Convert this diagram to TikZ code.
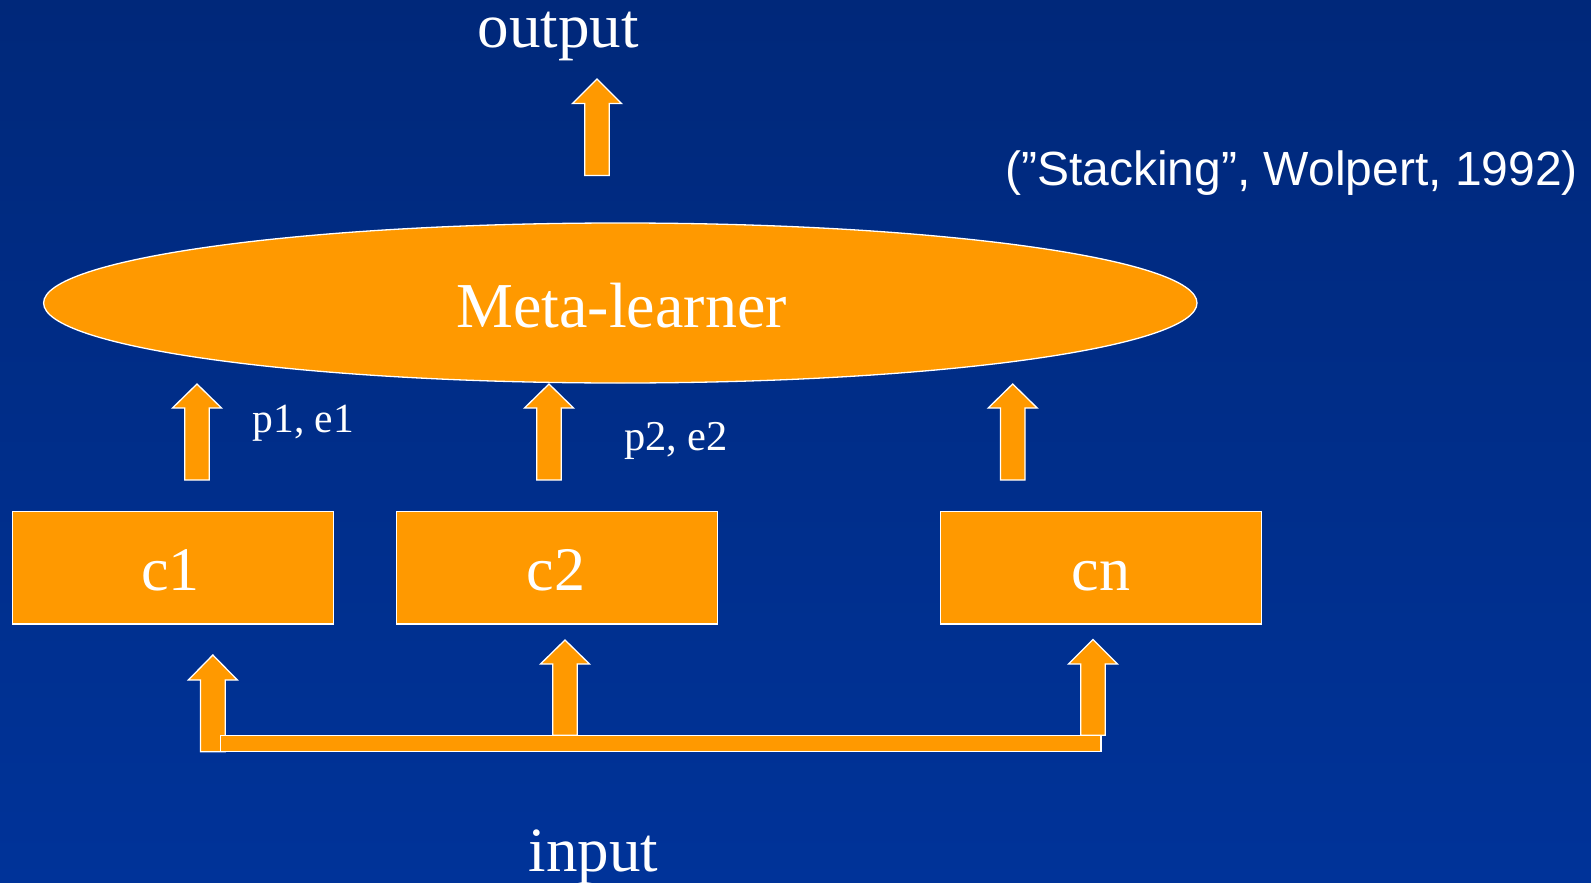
\documentclass[tikz,border=0pt]{standalone}
\usepackage{fontspec}
\setmainfont{Liberation Serif}
\newfontfamily\citefont{Liberation Sans}
\usetikzlibrary{shapes.geometric}
\definecolor{bgtop}{RGB}{0,40,122}
\definecolor{bgbot}{RGB}{0,51,153}
\definecolor{orng}{RGB}{255,153,0}
\tikzset{
  shapefill/.style={fill=orng, draw=white, line width=1.3pt, line join=miter},
  lbl/.style={text=white, inner sep=0pt, anchor=base},
}
% block arrow: center x, tip y, head base y, bottom y
\newcommand{\blockarrow}[4]{%
  \path[shapefill] (#1-12.3,#4) -- (#1-12.3,#3) -- (#1-24.5,#3) -- (#1,#2)
    -- (#1+24.5,#3) -- (#1+12.3,#3) -- (#1+12.3,#4) -- cycle;}
\begin{document}
\begin{tikzpicture}[x=1pt,y=-1pt]
\shade[top color=bgtop, bottom color=bgbot] (0,0) rectangle (1591,883);
\useasboundingbox (0,0) rectangle (1591,883);

% texts
\node[lbl, font=\fontsize{63}{70}\selectfont] (out) at (558,48) {output};
\node[lbl, font=\fontsize{63}{70}\selectfont] (in) at (593.5,871) {input};
\node[lbl, font=\citefont\fontsize{48}{56}\selectfont, anchor=base west] (cite) at (1005,185) {(”Stacking”, Wolpert, 1992)};

% top arrow
\blockarrow{597}{79}{103.5}{175.5}

% meta-learner
\node[shapefill, ellipse, minimum width=1153.4pt, minimum height=160pt, inner sep=0pt] (meta) at (620.3,303) {};
\node[lbl, font=\fontsize{64}{70}\selectfont] (metat) at (621.5,327) {Meta-learner};

% middle arrows
\blockarrow{197}{384}{408}{480}
\blockarrow{549}{384}{408}{480}
\blockarrow{1012.7}{384}{408}{480}
\node[lbl, font=\fontsize{41.5}{48}\selectfont, anchor=base west] (pe1) at (252.5,432) {p1, e1};
\node[lbl, font=\fontsize{42.5}{48}\selectfont, anchor=base west] (pe2) at (624,450.5) {p2, e2};

% classifier boxes
\node[shapefill, minimum width=321pt, minimum height=112.3pt, inner sep=0pt] (c1) at (172.8,567.85) {};
\node[shapefill, minimum width=320.6pt, minimum height=112.3pt, inner sep=0pt] (c2) at (557,567.85) {};
\node[shapefill, minimum width=321pt, minimum height=112.3pt, inner sep=0pt] (cn) at (1101.2,567.85) {};
\node[lbl, font=\fontsize{62}{70}\selectfont] (c1t) at (170.5,590) {c1};
\node[lbl, font=\fontsize{62}{70}\selectfont] (c2t) at (556,590) {c2};
\node[lbl, font=\fontsize{62}{70}\selectfont] (cnt) at (1101,590) {cn};

% bottom arrows and bar
\blockarrow{212.85}{655}{680}{751.7}
\blockarrow{565}{640}{664}{735.3}
\blockarrow{1093}{639.5}{664}{735.3}
\path[shapefill] (220.7,735.3) rectangle (1101,751.7);
\end{tikzpicture}
\end{document}
